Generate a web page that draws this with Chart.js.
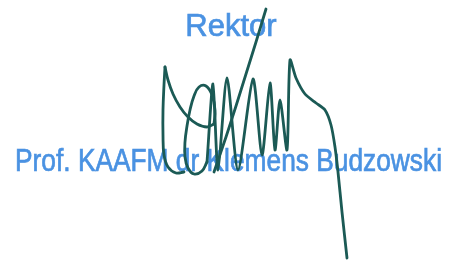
<!DOCTYPE html>
<html lang="pl">
<head>
  <meta charset="UTF-8">
  <title>Rektor</title>
  <script src="https://cdn.jsdelivr.net/npm/chart.js"></script>
  <style>
    body {
      margin: 0;
      background: #ffffff;
    }

    #sig {
      display: block;
    }
  </style>
</head>
<body>
  <canvas id="sig" width="449" height="262"></canvas>

  <script>
    // texts
    const titleText = 'Rektor';
    const nameText = 'Prof. KAAFM dr Klemens Budzowski';

    // signature strokes, in page units (x right, y down)
    const leftStroke = [[165, 67], [164, 85], [163, 110], [163, 135], [164, 155], [168, 167], [176, 173], [184, 172]];
    const archStroke = [[165, 67], [168, 80], [173, 94], [180, 107], [188, 117], [197, 124], [207, 127], [214, 124]];
    const loopStroke = [[214, 124], [215, 110], [212, 95], [206, 86], [199, 87], [194, 96], [190, 110],
      [187, 126], [185, 142], [185, 157], [188, 168], [194, 174], [202, 171], [207, 162]];
    const zigStroke = [[207, 162], [213, 84], [218, 170], [227, 78], [238, 170], [253, 79], [262, 155],
      [270, 83], [275, 150], [280, 100], [287, 150], [290, 60], [296, 78], [305, 94], [316, 103],
      [325, 110], [331, 125], [335, 147], [338, 172], [342, 212], [347, 258]];
    const slashStroke = [[266, 9], [256, 42], [246, 74], [236, 106], [226, 137], [214, 172]];

    const inkColor = '#1b5a55';
    const textColor = '#4a92e2';

    function toPoints(arr) {
      return arr.map(p => ({ x: p[0], y: p[1] }));
    }

    const textPlugin = {
      id: 'texts',
      beforeDatasetsDraw(chart) {
        const ctx = chart.ctx;
        const x = chart.scales.x;
        const y = chart.scales.y;
        ctx.save();
        ctx.fillStyle = textColor;
        ctx.strokeStyle = textColor;
        ctx.lineWidth = 0.7;
        ctx.textBaseline = 'alphabetic';
        ctx.font = '31px "Liberation Sans", Arial, sans-serif';
        ctx.textAlign = 'center';
        ctx.fillText(titleText, x.getPixelForValue(231), y.getPixelForValue(36));
        ctx.strokeText(titleText, x.getPixelForValue(231), y.getPixelForValue(36));
        ctx.textAlign = 'left';
        ctx.fillText(nameText, x.getPixelForValue(15), y.getPixelForValue(171), 427);
        ctx.strokeText(nameText, x.getPixelForValue(15), y.getPixelForValue(171), 427);
        ctx.restore();
      }
    };

    function stroke(data, tension) {
      return {
        data: toPoints(data),
        showLine: true,
        borderColor: inkColor,
        borderWidth: 2.8,
        pointRadius: 0,
        tension: tension,
        borderCapStyle: 'round',
        borderJoinStyle: 'round'
      };
    }

    new Chart(document.getElementById('sig'), {
      type: 'scatter',
      data: {
        datasets: [
          stroke(leftStroke, 0.4),
          stroke(archStroke, 0.4),
          stroke(loopStroke, 0.4),
          stroke(zigStroke, 0.25),
          stroke(slashStroke, 0.2)
        ]
      },
      options: {
        responsive: false,
        animation: false,
        layout: { padding: 0 },
        scales: {
          x: { type: 'linear', min: 0, max: 449, display: false },
          y: { type: 'linear', min: 0, max: 262, reverse: true, display: false }
        },
        plugins: {
          legend: { display: false },
          tooltip: { enabled: false }
        }
      },
      plugins: [textPlugin]
    });
  </script>
</body>
</html>
